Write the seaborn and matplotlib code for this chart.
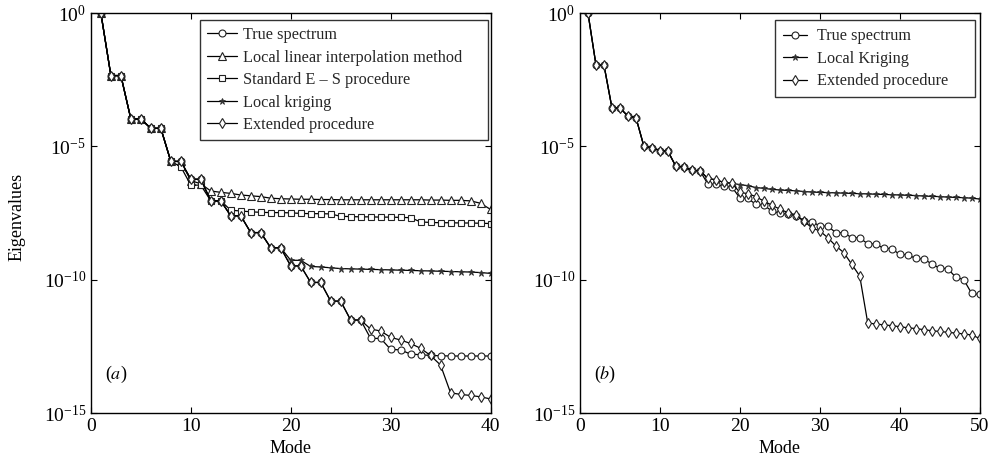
import numpy as np
import pandas as pd
import matplotlib
matplotlib.use("Agg")
import matplotlib.pyplot as plt
import seaborn as sns
from matplotlib.ticker import FixedLocator, LogFormatterMathtext, NullLocator, MultipleLocator

# ---------------- data (log10 of eigenvalues) ----------------
modes_a = list(range(1, 41))
true_a = [0, -2.34, -2.34, -3.97, -3.97, -4.32, -4.32, -5.56, -5.56, -6.23,
          -6.23, -7.04, -7.04, -7.60, -7.60, -8.23, -8.23, -8.80, -8.80, -9.48,
          -9.48, -10.10, -10.10, -10.80, -10.80, -11.51, -11.51, -12.20, -12.20, -12.61,
          -12.63, -12.79, -12.81, -12.84, -12.85, -12.86, -12.86, -12.86, -12.86, -12.86]
linear_a = [0, -2.34, -2.34, -3.97, -3.97, -4.32, -4.32, -5.56, -5.56, -6.28,
            -6.40, -6.67, -6.72, -6.76, -6.82, -6.85, -6.88, -6.94, -6.96, -6.97,
            -6.98, -6.98, -6.99, -6.99, -7.00, -7.00, -7.00, -7.00, -7.00, -7.00,
            -7.00, -7.00, -7.00, -7.01, -7.01, -7.02, -7.02, -7.04, -7.13, -7.36]
es_a = [0, -2.34, -2.34, -3.97, -3.97, -4.32, -4.32, -5.56, -5.76, -6.45,
        -6.45, -7.04, -7.04, -7.39, -7.42, -7.45, -7.47, -7.48, -7.48, -7.49,
        -7.51, -7.52, -7.52, -7.53, -7.62, -7.63, -7.64, -7.64, -7.65, -7.65,
        -7.66, -7.67, -7.83, -7.85, -7.86, -7.86, -7.87, -7.87, -7.88, -7.89]
krig_a = [0, -2.34, -2.34, -3.97, -3.97, -4.32, -4.32, -5.56, -5.56, -6.23,
          -6.23, -7.04, -7.04, -7.60, -7.60, -8.23, -8.23, -8.80, -8.80, -9.27,
          -9.27, -9.50, -9.52, -9.55, -9.58, -9.59, -9.60, -9.61, -9.62, -9.63,
          -9.64, -9.65, -9.66, -9.67, -9.68, -9.69, -9.70, -9.71, -9.73, -9.76]
ext_a = [0, -2.34, -2.34, -3.97, -3.97, -4.32, -4.32, -5.56, -5.56, -6.23,
         -6.23, -7.04, -7.04, -7.60, -7.60, -8.23, -8.23, -8.80, -8.80, -9.48,
         -9.48, -10.10, -10.10, -10.80, -10.80, -11.51, -11.51, -11.85, -11.92, -12.16,
         -12.26, -12.39, -12.57, -12.84, -13.20, -14.24, -14.30, -14.34, -14.39, -14.47]

modes_b = list(range(1, 51))
true_b = [0, -1.95, -1.95, -3.56, -3.56, -3.86, -3.92, -5.00, -5.04, -5.16,
          -5.18, -5.75, -5.76, -5.90, -5.91, -6.41, -6.42, -6.50, -6.52, -6.93,
          -6.95, -7.17, -7.20, -7.42, -7.50, -7.54, -7.60, -7.79, -7.82, -7.98,
          -7.99, -8.23, -8.24, -8.42, -8.43, -8.65, -8.66, -8.82, -8.83, -9.05,
          -9.06, -9.20, -9.22, -9.40, -9.57, -9.58, -9.90, -9.99, -10.51, -10.55]
krig_b = [0, -1.95, -1.95, -3.56, -3.56, -3.86, -3.92, -5.00, -5.04, -5.16,
          -5.18, -5.75, -5.76, -5.90, -5.91, -6.20, -6.25, -6.35, -6.38, -6.43,
          -6.47, -6.54, -6.57, -6.61, -6.63, -6.65, -6.66, -6.69, -6.71, -6.72,
          -6.73, -6.74, -6.75, -6.76, -6.77, -6.78, -6.79, -6.80, -6.81, -6.82,
          -6.83, -6.84, -6.86, -6.87, -6.88, -6.90, -6.91, -6.92, -6.94, -6.97]
ext_b = [0, -1.95, -1.95, -3.56, -3.56, -3.86, -3.92, -5.00, -5.04, -5.16,
         -5.18, -5.75, -5.76, -5.90, -5.91, -6.20, -6.25, -6.35, -6.38, -6.72,
         -6.77, -6.88, -7.05, -7.20, -7.35, -7.48, -7.57, -7.79, -8.05, -8.17,
         -8.42, -8.73, -8.98, -9.42, -9.86, -11.62, -11.66, -11.69, -11.72, -11.76,
         -11.80, -11.83, -11.87, -11.91, -11.94, -11.97, -12.00, -12.03, -12.07, -12.20]

labels_a = ["True spectrum", "Local linear interpolation method",
            "Standard E \u2013 S procedure", "Local kriging", "Extended procedure"]
labels_b = ["True spectrum", "Local Kriging", "Extended procedure"]
ytick_vals = [1e-15, 1e-10, 1e-5, 1]

# ---------------- style ----------------
sns.set_theme(style="ticks")
plt.rcParams["font.family"] = ["Liberation Serif", "DejaVu Serif"]
plt.rcParams["mathtext.fontset"] = "stix"
plt.rcParams["axes.linewidth"] = 1.0
plt.rcParams["xtick.direction"] = "in"
plt.rcParams["ytick.direction"] = "in"

fig = plt.figure(figsize=(9.99, 4.71), dpi=100)
ax_a = fig.add_axes([0.091, 0.123, 0.400, 0.849])
ax_b = fig.add_axes([0.5806, 0.123, 0.400, 0.849])

styles = {
    "o": dict(marker="o", mfc="white", mec="#222222", ms=5.0, mew=0.8),
    "^": dict(marker="^", mfc="white", mec="#222222", ms=5.5, mew=0.8),
    "s": dict(marker="s", mfc="white", mec="#222222", ms=4.5, mew=0.8),
    "*": dict(marker="*", mfc="#333333", mec="#333333", ms=5.0, mew=0.6),
    "d": dict(marker="d", mfc="white", mec="#222222", ms=5.5, mew=0.8),
}


def draw(ax, x, y, label, m):
    df = pd.DataFrame({"Mode": x, "Eigenvalues": np.power(10.0, np.array(y))})
    sns.lineplot(data=df, x="Mode", y="Eigenvalues", ax=ax, color="black",
                 linewidth=0.9, label=label, **styles[m])


series_a = [(true_a, "o"), (linear_a, "^"), (es_a, "s"), (krig_a, "*"), (ext_a, "d")]
for (vals, m), lab in zip(series_a, labels_a):
    draw(ax_a, modes_a, vals, lab, m)

series_b = [(true_b, "o"), (krig_b, "*"), (ext_b, "d")]
for (vals, m), lab in zip(series_b, labels_b):
    draw(ax_b, modes_b, vals, lab, m)

# legend boxes (axes fraction): x0, width, top
legend_cfg = {
    "a": dict(bbox_to_anchor=(0.2725, 0.5, 0.72, 0.4825), handlelength=1.85,
              handletextpad=0.4, borderpad=0.43),
    "b": dict(bbox_to_anchor=(0.4875, 0.5, 0.50, 0.4825), handlelength=1.45,
              handletextpad=0.65, borderpad=0.5),
}

for ax, xmax, tag in [(ax_a, 40, "a"), (ax_b, 50, "b")]:
    ax.set_yscale("log")
    ax.set_ylim(1e-15, 1)
    ax.set_xlim(0, xmax)
    ax.xaxis.set_major_locator(MultipleLocator(10))
    ax.yaxis.set_major_locator(FixedLocator(ytick_vals))
    ax.yaxis.set_minor_locator(NullLocator())
    ax.xaxis.set_minor_locator(NullLocator())
    ax.yaxis.set_major_formatter(LogFormatterMathtext())
    ax.tick_params(axis="both", which="both", top=True, right=True, direction="in",
                   labelsize=14, length=4, width=0.8, color="black", labelcolor="black")
    ax.set_xlabel("Mode", fontsize=13, color="black")
    ax.set_ylabel("")
    for sp in ax.spines.values():
        sp.set_visible(True)
        sp.set_color("black")
        sp.set_linewidth(1.0)
    ax.text(0.035, 0.085, "($%s$)" % tag, transform=ax.transAxes, fontsize=13, color="black")
    leg = ax.legend(loc="upper left", mode="expand", fontsize=11.7, frameon=True,
                    fancybox=False, labelspacing=0.4, borderaxespad=0.0,
                    **legend_cfg[tag])
    leg.get_frame().set_edgecolor("black")
    leg.get_frame().set_linewidth(1.0)
    ax.grid(False)

ax_a.set_ylabel("Eigenvalues", fontsize=13, color="black")
ax_a.yaxis.set_label_coords(-0.163, 0.49)

fig.savefig("out.png", dpi=100, facecolor="white")
